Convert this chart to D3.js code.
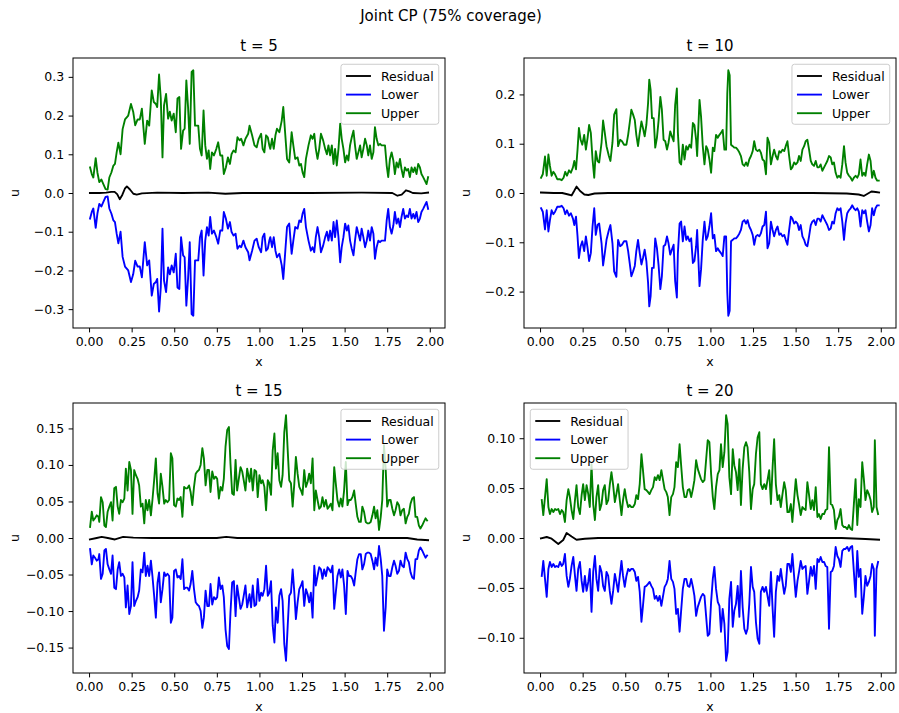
<!DOCTYPE html>
<html>
<head>
<meta charset="utf-8">
<script src="https://cdn.jsdelivr.net/npm/d3@7"></script>
<style>
  body { margin: 0; background: #fff; }
  text { font-family: "DejaVu Sans", sans-serif; fill: #000; }
</style>
</head>
<body>
<svg id="fig" width="899" height="713"></svg>
<script>
// ---- chart text -------------------------------------------------------
const figTitle = "Joint CP (75% coverage)";
const timeSteps = [5, 10, 15, 20];
const seriesNames = ["Residual", "Lower", "Upper"];
const seriesColors = ["#000000", "#0000ff", "#008000"];
const xLabel = "x";
const yLabel = "u";

// ---- tick values ------------------------------------------------------
const xTicks = [0, 0.25, 0.5, 0.75, 1.0, 1.25, 1.5, 1.75, 2.0];
const yTicks5 = [-0.3, -0.2, -0.1, 0.0, 0.1, 0.2, 0.3];
const yTicks10 = [-0.2, -0.1, 0.0, 0.1, 0.2];
const yTicks15 = [-0.15, -0.10, -0.05, 0.00, 0.05, 0.10, 0.15];
const yTicks20 = [-0.10, -0.05, 0.00, 0.05, 0.10];

// ---- conformal half-width of the band, [x, q]; Lower = -q, Upper = +q ----
const halfWidth5 = [[0.006,0.066],[0.016,0.049],[0.025,0.040],[0.039,0.090],[0.049,0.053],[0.060,0.028],[0.072,0.035],[0.084,0.023],[0.097,0.010],[0.109,0.009],[0.119,0.040],[0.131,0.053],[0.142,0.070],[0.152,0.075],[0.162,0.105],[0.172,0.130],[0.185,0.100],[0.197,0.165],[0.211,0.190],[0.230,0.200],[0.246,0.230],[0.259,0.210],[0.271,0.175],[0.285,0.190],[0.298,0.190],[0.310,0.218],[0.327,0.127],[0.341,0.187],[0.353,0.174],[0.368,0.265],[0.380,0.235],[0.392,0.230],[0.400,0.222],[0.411,0.306],[0.421,0.244],[0.431,0.092],[0.440,0.226],[0.452,0.256],[0.464,0.192],[0.474,0.210],[0.485,0.187],[0.497,0.205],[0.509,0.157],[0.519,0.244],[0.530,0.248],[0.540,0.114],[0.552,0.161],[0.561,0.166],[0.571,0.291],[0.581,0.222],[0.591,0.127],[0.602,0.313],[0.612,0.317],[0.622,0.174],[0.632,0.174],[0.641,0.174],[0.651,0.114],[0.661,0.097],[0.672,0.213],[0.682,0.123],[0.692,0.088],[0.702,0.110],[0.711,0.062],[0.721,0.105],[0.733,0.097],[0.747,0.114],[0.758,0.131],[0.770,0.097],[0.782,0.097],[0.791,0.049],[0.803,0.066],[0.815,0.092],[0.827,0.075],[0.836,0.100],[0.848,0.110],[0.860,0.105],[0.871,0.144],[0.883,0.136],[0.893,0.140],[0.906,0.123],[0.918,0.140],[0.934,0.153],[0.942,0.174],[0.957,0.149],[0.971,0.123],[0.984,0.118],[0.996,0.140],[1.010,0.153],[1.019,0.114],[1.029,0.105],[1.039,0.149],[1.049,0.144],[1.058,0.123],[1.064,0.114],[1.074,0.140],[1.084,0.114],[1.094,0.149],[1.103,0.166],[1.117,0.157],[1.131,0.187],[1.140,0.222],[1.152,0.149],[1.162,0.088],[1.175,0.079],[1.189,0.157],[1.199,0.123],[1.210,0.088],[1.224,0.092],[1.234,0.071],[1.244,0.075],[1.253,0.054],[1.263,0.041],[1.273,0.088],[1.288,0.123],[1.302,0.149],[1.312,0.140],[1.322,0.153],[1.331,0.114],[1.341,0.088],[1.351,0.114],[1.361,0.153],[1.374,0.136],[1.386,0.114],[1.396,0.100],[1.405,0.123],[1.415,0.097],[1.425,0.123],[1.435,0.075],[1.444,0.114],[1.454,0.071],[1.464,0.114],[1.474,0.179],[1.483,0.140],[1.493,0.114],[1.503,0.079],[1.513,0.097],[1.522,0.084],[1.532,0.123],[1.542,0.144],[1.552,0.161],[1.561,0.123],[1.571,0.088],[1.581,0.105],[1.591,0.123],[1.600,0.092],[1.610,0.114],[1.620,0.140],[1.630,0.123],[1.639,0.097],[1.649,0.123],[1.659,0.088],[1.669,0.105],[1.678,0.170],[1.688,0.140],[1.698,0.123],[1.708,0.127],[1.717,0.123],[1.727,0.123],[1.737,0.123],[1.747,0.071],[1.756,0.041],[1.766,0.088],[1.776,0.105],[1.786,0.084],[1.795,0.049],[1.805,0.079],[1.815,0.066],[1.825,0.088],[1.834,0.062],[1.844,0.041],[1.854,0.066],[1.864,0.058],[1.873,0.062],[1.883,0.041],[1.893,0.066],[1.903,0.054],[1.912,0.066],[1.922,0.049],[1.932,0.075],[1.942,0.066],[1.951,0.049],[1.961,0.041],[1.971,0.032],[1.981,0.023],[1.990,0.041]];

const halfWidth10 = [[0.006,0.031],[0.016,0.038],[0.029,0.074],[0.039,0.035],[0.049,0.078],[0.058,0.055],[0.068,0.035],[0.078,0.043],[0.088,0.038],[0.101,0.028],[0.115,0.028],[0.127,0.026],[0.138,0.031],[0.148,0.043],[0.158,0.035],[0.170,0.046],[0.181,0.041],[0.193,0.052],[0.201,0.065],[0.211,0.048],[0.220,0.088],[0.228,0.132],[0.238,0.108],[0.248,0.098],[0.259,0.118],[0.269,0.088],[0.279,0.112],[0.288,0.138],[0.298,0.122],[0.308,0.068],[0.318,0.031],[0.327,0.085],[0.337,0.065],[0.347,0.062],[0.361,0.102],[0.370,0.147],[0.380,0.122],[0.390,0.095],[0.404,0.075],[0.413,0.065],[0.425,0.102],[0.435,0.159],[0.448,0.170],[0.458,0.095],[0.470,0.108],[0.481,0.105],[0.493,0.098],[0.507,0.098],[0.517,0.118],[0.526,0.142],[0.536,0.169],[0.546,0.159],[0.556,0.148],[0.565,0.118],[0.575,0.095],[0.585,0.122],[0.595,0.145],[0.604,0.132],[0.614,0.115],[0.624,0.138],[0.634,0.182],[0.641,0.230],[0.649,0.209],[0.657,0.152],[0.667,0.152],[0.676,0.092],[0.686,0.112],[0.696,0.148],[0.706,0.195],[0.715,0.169],[0.725,0.108],[0.735,0.105],[0.745,0.088],[0.754,0.102],[0.764,0.125],[0.774,0.115],[0.784,0.105],[0.793,0.179],[0.803,0.212],[0.809,0.122],[0.819,0.062],[0.828,0.058],[0.838,0.098],[0.848,0.068],[0.858,0.095],[0.867,0.088],[0.877,0.098],[0.887,0.092],[0.897,0.142],[0.906,0.138],[0.916,0.108],[0.922,0.075],[0.936,0.189],[0.945,0.155],[0.955,0.095],[0.965,0.058],[0.975,0.095],[0.984,0.088],[0.994,0.068],[1.004,0.041],[1.014,0.092],[1.023,0.085],[1.033,0.118],[1.043,0.112],[1.053,0.118],[1.062,0.122],[1.072,0.128],[1.082,0.088],[1.092,0.088],[1.099,0.202],[1.105,0.249],[1.113,0.239],[1.121,0.098],[1.131,0.095],[1.140,0.092],[1.150,0.092],[1.160,0.088],[1.170,0.082],[1.179,0.075],[1.189,0.058],[1.199,0.055],[1.209,0.062],[1.218,0.055],[1.228,0.068],[1.238,0.075],[1.248,0.085],[1.257,0.105],[1.267,0.088],[1.277,0.085],[1.287,0.088],[1.296,0.082],[1.306,0.068],[1.316,0.065],[1.326,0.038],[1.335,0.112],[1.345,0.102],[1.355,0.058],[1.365,0.075],[1.374,0.088],[1.384,0.075],[1.394,0.068],[1.404,0.085],[1.413,0.082],[1.423,0.088],[1.433,0.085],[1.442,0.095],[1.452,0.105],[1.462,0.075],[1.472,0.048],[1.481,0.052],[1.491,0.062],[1.501,0.058],[1.511,0.062],[1.520,0.075],[1.530,0.065],[1.540,0.088],[1.550,0.095],[1.559,0.105],[1.569,0.108],[1.579,0.088],[1.589,0.065],[1.598,0.058],[1.608,0.055],[1.618,0.065],[1.628,0.052],[1.637,0.052],[1.647,0.058],[1.657,0.045],[1.667,0.052],[1.676,0.058],[1.686,0.065],[1.696,0.075],[1.706,0.072],[1.715,0.058],[1.725,0.062],[1.735,0.041],[1.745,0.031],[1.754,0.035],[1.764,0.031],[1.774,0.058],[1.784,0.095],[1.793,0.062],[1.803,0.041],[1.813,0.035],[1.823,0.031],[1.832,0.025],[1.842,0.031],[1.852,0.035],[1.862,0.031],[1.871,0.038],[1.881,0.068],[1.891,0.035],[1.901,0.041],[1.910,0.035],[1.920,0.058],[1.930,0.078],[1.940,0.065],[1.949,0.031],[1.959,0.045],[1.969,0.031],[1.979,0.025],[1.988,0.025]];

const halfWidth15 = [[0.006,0.015],[0.016,0.036],[0.025,0.024],[0.035,0.027],[0.045,0.031],[0.055,0.029],[0.060,0.022],[0.070,0.056],[0.080,0.049],[0.090,0.017],[0.099,0.015],[0.109,0.036],[0.119,0.043],[0.129,0.049],[0.138,0.024],[0.148,0.068],[0.158,0.070],[0.168,0.043],[0.177,0.033],[0.187,0.052],[0.197,0.049],[0.207,0.054],[0.216,0.095],[0.226,0.065],[0.236,0.104],[0.246,0.093],[0.255,0.033],[0.265,0.093],[0.275,0.086],[0.285,0.081],[0.294,0.072],[0.304,0.043],[0.314,0.047],[0.324,0.020],[0.333,0.052],[0.343,0.038],[0.353,0.052],[0.363,0.031],[0.372,0.052],[0.382,0.079],[0.392,0.109],[0.402,0.061],[0.411,0.047],[0.421,0.088],[0.431,0.070],[0.441,0.047],[0.450,0.052],[0.460,0.049],[0.470,0.052],[0.480,0.116],[0.489,0.109],[0.499,0.045],[0.509,0.043],[0.519,0.054],[0.528,0.052],[0.538,0.056],[0.548,0.029],[0.558,0.070],[0.567,0.068],[0.577,0.068],[0.587,0.072],[0.596,0.063],[0.606,0.045],[0.616,0.070],[0.626,0.088],[0.635,0.091],[0.645,0.093],[0.655,0.100],[0.665,0.123],[0.674,0.109],[0.684,0.072],[0.694,0.093],[0.704,0.093],[0.713,0.063],[0.723,0.091],[0.733,0.081],[0.743,0.084],[0.752,0.081],[0.762,0.054],[0.772,0.070],[0.782,0.065],[0.791,0.081],[0.801,0.125],[0.811,0.148],[0.821,0.152],[0.830,0.102],[0.840,0.061],[0.850,0.059],[0.860,0.107],[0.869,0.065],[0.879,0.081],[0.889,0.097],[0.899,0.091],[0.908,0.079],[0.918,0.065],[0.928,0.095],[0.942,0.077],[0.951,0.095],[0.961,0.065],[0.971,0.093],[0.981,0.091],[0.990,0.056],[1.000,0.086],[1.010,0.075],[1.019,0.079],[1.029,0.070],[1.039,0.038],[1.049,0.079],[1.058,0.075],[1.068,0.059],[1.078,0.120],[1.088,0.143],[1.097,0.095],[1.107,0.116],[1.117,0.079],[1.127,0.070],[1.136,0.086],[1.146,0.145],[1.156,0.168],[1.166,0.120],[1.175,0.079],[1.185,0.075],[1.195,0.043],[1.205,0.075],[1.214,0.111],[1.224,0.088],[1.234,0.070],[1.244,0.065],[1.253,0.059],[1.263,0.093],[1.273,0.070],[1.283,0.077],[1.292,0.088],[1.302,0.075],[1.312,0.109],[1.322,0.038],[1.331,0.065],[1.341,0.052],[1.351,0.040],[1.361,0.043],[1.370,0.056],[1.380,0.043],[1.390,0.052],[1.400,0.040],[1.409,0.043],[1.419,0.047],[1.429,0.038],[1.439,0.097],[1.448,0.075],[1.458,0.052],[1.468,0.043],[1.478,0.054],[1.487,0.043],[1.497,0.065],[1.507,0.104],[1.517,0.045],[1.526,0.052],[1.536,0.052],[1.546,0.056],[1.556,0.065],[1.565,0.047],[1.575,0.029],[1.585,0.022],[1.595,0.022],[1.604,0.043],[1.614,0.036],[1.624,0.022],[1.634,0.020],[1.643,0.020],[1.653,0.022],[1.663,0.031],[1.673,0.043],[1.682,0.027],[1.692,0.038],[1.702,0.011],[1.712,0.029],[1.721,0.052],[1.731,0.127],[1.741,0.095],[1.750,0.043],[1.760,0.052],[1.770,0.052],[1.780,0.040],[1.790,0.031],[1.799,0.038],[1.809,0.049],[1.819,0.045],[1.828,0.031],[1.838,0.038],[1.848,0.040],[1.858,0.020],[1.868,0.029],[1.877,0.033],[1.887,0.047],[1.897,0.054],[1.907,0.056],[1.916,0.029],[1.926,0.029],[1.936,0.017],[1.945,0.013],[1.955,0.017],[1.965,0.022],[1.975,0.027],[1.984,0.024]];

const halfWidth20 = [[0.010,0.038],[0.019,0.023],[0.029,0.041],[0.039,0.059],[0.049,0.031],[0.058,0.024],[0.068,0.029],[0.078,0.026],[0.088,0.029],[0.097,0.028],[0.107,0.029],[0.117,0.024],[0.127,0.028],[0.136,0.026],[0.146,0.016],[0.156,0.038],[0.166,0.049],[0.175,0.041],[0.185,0.028],[0.195,0.019],[0.205,0.038],[0.214,0.053],[0.224,0.031],[0.234,0.024],[0.244,0.043],[0.253,0.054],[0.263,0.038],[0.273,0.053],[0.283,0.044],[0.292,0.031],[0.302,0.074],[0.312,0.034],[0.322,0.018],[0.331,0.041],[0.341,0.053],[0.351,0.028],[0.361,0.034],[0.370,0.048],[0.380,0.053],[0.390,0.034],[0.400,0.038],[0.409,0.053],[0.419,0.066],[0.429,0.053],[0.439,0.036],[0.448,0.044],[0.458,0.054],[0.468,0.038],[0.478,0.023],[0.487,0.038],[0.497,0.049],[0.507,0.038],[0.517,0.031],[0.526,0.033],[0.536,0.031],[0.546,0.031],[0.556,0.034],[0.565,0.043],[0.575,0.039],[0.585,0.054],[0.595,0.084],[0.604,0.068],[0.614,0.049],[0.624,0.048],[0.634,0.046],[0.643,0.044],[0.653,0.048],[0.663,0.051],[0.673,0.061],[0.682,0.058],[0.692,0.063],[0.702,0.058],[0.712,0.068],[0.721,0.059],[0.731,0.049],[0.741,0.046],[0.750,0.041],[0.760,0.023],[0.770,0.041],[0.780,0.044],[0.789,0.051],[0.799,0.076],[0.809,0.071],[0.819,0.094],[0.828,0.073],[0.838,0.051],[0.848,0.041],[0.858,0.041],[0.867,0.048],[0.877,0.049],[0.887,0.041],[0.897,0.049],[0.906,0.058],[0.916,0.078],[0.926,0.069],[0.945,0.059],[0.955,0.056],[0.965,0.058],[0.975,0.079],[0.984,0.098],[0.994,0.096],[1.004,0.064],[1.014,0.041],[1.023,0.029],[1.033,0.051],[1.043,0.064],[1.053,0.068],[1.062,0.094],[1.072,0.071],[1.082,0.086],[1.092,0.123],[1.101,0.114],[1.111,0.061],[1.121,0.044],[1.131,0.089],[1.140,0.073],[1.150,0.066],[1.160,0.048],[1.170,0.079],[1.179,0.033],[1.189,0.069],[1.199,0.091],[1.209,0.096],[1.218,0.091],[1.228,0.066],[1.238,0.029],[1.248,0.049],[1.257,0.054],[1.267,0.084],[1.277,0.101],[1.287,0.106],[1.296,0.054],[1.306,0.049],[1.316,0.054],[1.326,0.049],[1.335,0.058],[1.345,0.068],[1.355,0.034],[1.365,0.071],[1.374,0.099],[1.384,0.054],[1.394,0.038],[1.404,0.043],[1.413,0.031],[1.423,0.044],[1.433,0.056],[1.442,0.048],[1.452,0.026],[1.462,0.026],[1.472,0.034],[1.481,0.016],[1.491,0.038],[1.501,0.059],[1.511,0.043],[1.520,0.034],[1.530,0.023],[1.540,0.031],[1.550,0.029],[1.559,0.028],[1.569,0.056],[1.579,0.043],[1.589,0.029],[1.598,0.038],[1.608,0.028],[1.618,0.051],[1.628,0.021],[1.637,0.024],[1.647,0.019],[1.657,0.024],[1.667,0.024],[1.676,0.028],[1.686,0.029],[1.696,0.091],[1.706,0.034],[1.715,0.033],[1.725,0.028],[1.735,0.009],[1.745,0.018],[1.754,0.021],[1.764,0.029],[1.774,0.013],[1.784,0.011],[1.793,0.011],[1.803,0.009],[1.813,0.013],[1.823,0.009],[1.832,0.008],[1.842,0.034],[1.852,0.059],[1.862,0.013],[1.871,0.039],[1.881,0.031],[1.891,0.076],[1.901,0.058],[1.910,0.038],[1.920,0.048],[1.930,0.044],[1.940,0.038],[1.949,0.026],[1.959,0.031],[1.965,0.098],[1.975,0.031],[1.984,0.024]];

// ---- residual, [x, r] ---------------------------------------------------
const residual5 = [[0.005,0.000],[0.06,0.000],[0.10,0.001],[0.13,0.003],[0.15,0.003],[0.165,-0.003],[0.18,-0.016],[0.195,-0.005],[0.21,0.011],[0.222,0.017],[0.24,0.009],[0.26,-0.002],[0.28,-0.004],[0.31,-0.001],[0.40,0.001],[0.55,0.000],[0.70,0.001],[0.80,-0.002],[0.90,0.000],[1.00,0.000],[1.30,0.000],[1.60,0.001],[1.78,0.000],[1.81,-0.007],[1.835,-0.004],[1.86,0.007],[1.88,0.004],[1.90,0.000],[1.95,-0.001],[1.99,0.001]];
const residual10 = [[0.005,0.001],[0.08,0.000],[0.13,0.000],[0.166,-0.003],[0.185,-0.005],[0.20,0.004],[0.214,0.013],[0.235,0.004],[0.26,-0.003],[0.283,-0.004],[0.32,-0.001],[0.40,0.000],[0.80,0.000],[1.20,0.000],[1.60,0.000],[1.80,-0.001],[1.87,-0.003],[1.90,-0.006],[1.92,-0.002],[1.945,0.003],[1.97,0.002],[1.99,0.001]];
const residual15 = [[0.005,-0.002],[0.045,0.000],[0.074,0.0015],[0.11,0.000],[0.152,-0.002],[0.20,0.0015],[0.26,0.0005],[0.37,0.000],[0.60,0.000],[0.75,0.000],[0.805,0.0015],[0.87,0.000],[1.20,0.000],[1.60,0.000],[1.868,0.000],[1.926,-0.002],[1.99,-0.003]];
const residual20 = [[0.005,-0.0003],[0.039,0.001],[0.068,-0.0007],[0.107,-0.006],[0.136,-0.002],[0.156,0.005],[0.185,0.0015],[0.214,-0.0017],[0.263,-0.0007],[0.341,0.000],[0.80,0.000],[1.20,0.000],[1.60,0.000],[1.77,0.000],[1.91,-0.001],[1.99,-0.0017]];

// ---- panel arrangement ----------------------------------------------------
const panels = [
  { t: timeSteps[0], q: halfWidth5,  r: residual5,  yTicks: yTicks5,  yFmt: ".1f", col: 0, row: 0, legend: "right" },
  { t: timeSteps[1], q: halfWidth10, r: residual10, yTicks: yTicks10, yFmt: ".1f", col: 1, row: 0, legend: "right" },
  { t: timeSteps[2], q: halfWidth15, r: residual15, yTicks: yTicks15, yFmt: ".2f", col: 0, row: 1, legend: "right" },
  { t: timeSteps[3], q: halfWidth20, r: residual20, yTicks: yTicks20, yFmt: ".2f", col: 1, row: 1, legend: "left" }
];

// ---- layout -----------------------------------------------------------
const colLeft = [73, 524], rowTop = [58, 403];
const axW = 372, axH = 270;
const fs = 12.5, titleFs = 15;
const tickLen = 4.4, tickPad = 4.4;
const lineW = 1.875, spineW = 1.0;

const svg = d3.select("#fig");
svg.append("rect").attr("width", 899).attr("height", 713).attr("fill", "#fff");

svg.append("text")
  .attr("x", 451).attr("y", 21)
  .attr("text-anchor", "middle")
  .attr("font-size", titleFs)
  .text(figTitle);

panels.forEach(p => {
  const g = svg.append("g")
    .attr("transform", `translate(${colLeft[p.col]},${rowTop[p.row]})`);

  // scales with 5% margins around the data, as in the default autoscale
  const xs = p.q.map(d => d[0]).concat(p.r.map(d => d[0]));
  const [xa, xb] = d3.extent(xs);
  const xm = (xb - xa) * 0.05;
  const x = d3.scaleLinear().domain([xa - xm, xb + xm]).range([0, axW]);

  const vs = p.q.map(d => d[1]).concat(p.q.map(d => -d[1]), p.r.map(d => d[1]));
  const [ya, yb] = d3.extent(vs);
  const ym = (yb - ya) * 0.05;
  const y = d3.scaleLinear().domain([ya - ym, yb + ym]).range([axH, 0]);

  const line = d3.line().x(d => x(d[0])).y(d => y(d[1]));
  const lower = p.q.map(d => [d[0], -d[1]]);
  const series = [p.r, lower, p.q];

  series.forEach((s, i) => {
    g.append("path")
      .datum(s)
      .attr("d", line)
      .attr("fill", "none")
      .attr("stroke", seriesColors[i])
      .attr("stroke-width", lineW)
      .attr("stroke-linejoin", "round")
      .attr("stroke-linecap", "square");
  });

  // axes
  const xAxis = g.append("g")
    .attr("transform", `translate(0,${axH})`)
    .call(d3.axisBottom(x).tickValues(xTicks).tickFormat(d3.format(".2f"))
      .tickSize(tickLen).tickPadding(tickPad).tickSizeOuter(0));
  const yAxis = g.append("g")
    .call(d3.axisLeft(y).tickValues(p.yTicks).tickFormat(d3.format(p.yFmt))
      .tickSize(tickLen).tickPadding(tickPad).tickSizeOuter(0));
  [xAxis, yAxis].forEach(a => {
    a.select(".domain").remove();
    a.selectAll("line").attr("stroke", "#000").attr("stroke-width", spineW);
    a.selectAll("text")
      .attr("font-size", fs)
      .attr("font-family", "DejaVu Sans")
      .attr("fill", "#000");
  });

  // spines
  g.append("rect")
    .attr("width", axW).attr("height", axH)
    .attr("fill", "none").attr("stroke", "#000").attr("stroke-width", spineW);

  // title and axis labels
  g.append("text")
    .attr("x", axW / 2).attr("y", -7.5)
    .attr("text-anchor", "middle").attr("font-size", titleFs)
    .text(`t = ${p.t}`);
  g.append("text")
    .attr("x", axW / 2).attr("y", axH + 38)
    .attr("text-anchor", "middle").attr("font-size", fs)
    .text(xLabel);
  g.append("text")
    .attr("transform", `translate(${-54.5},${axH / 2}) rotate(-90)`)
    .attr("text-anchor", "middle").attr("font-size", fs)
    .text(yLabel);

  // legend
  const pad = 0.4 * fs, handleLen = 2 * fs, handleGap = 0.8 * fs, rowH = 18.6, axPad = 0.5 * fs;
  const lg = g.append("g");
  const box = lg.append("rect");
  const labels = seriesNames.map((name, i) => {
    const cy = pad + fs / 2 + 0.5 + i * rowH;
    lg.append("line")
      .attr("x1", pad).attr("x2", pad + handleLen)
      .attr("y1", cy).attr("y2", cy)
      .attr("stroke", seriesColors[i]).attr("stroke-width", lineW);
    return lg.append("text")
      .attr("x", pad + handleLen + handleGap).attr("y", cy)
      .attr("dy", "0.36em").attr("font-size", fs)
      .text(name);
  });
  const textW = d3.max(labels, t => t.node().getComputedTextLength());
  const boxW = pad + handleLen + handleGap + textW + pad;
  const boxH = 2 * pad + 3 * fs + 2 * 0.5 * fs;
  box.attr("width", boxW).attr("height", boxH)
    .attr("rx", 2.5).attr("ry", 2.5)
    .attr("fill", "#fff").attr("fill-opacity", 0.8)
    .attr("stroke", "#cccccc").attr("stroke-width", 1);
  const lx = p.legend === "right" ? axW - axPad - boxW : axPad;
  lg.attr("transform", `translate(${lx},${axPad})`);
});
</script>
</body>
</html>
